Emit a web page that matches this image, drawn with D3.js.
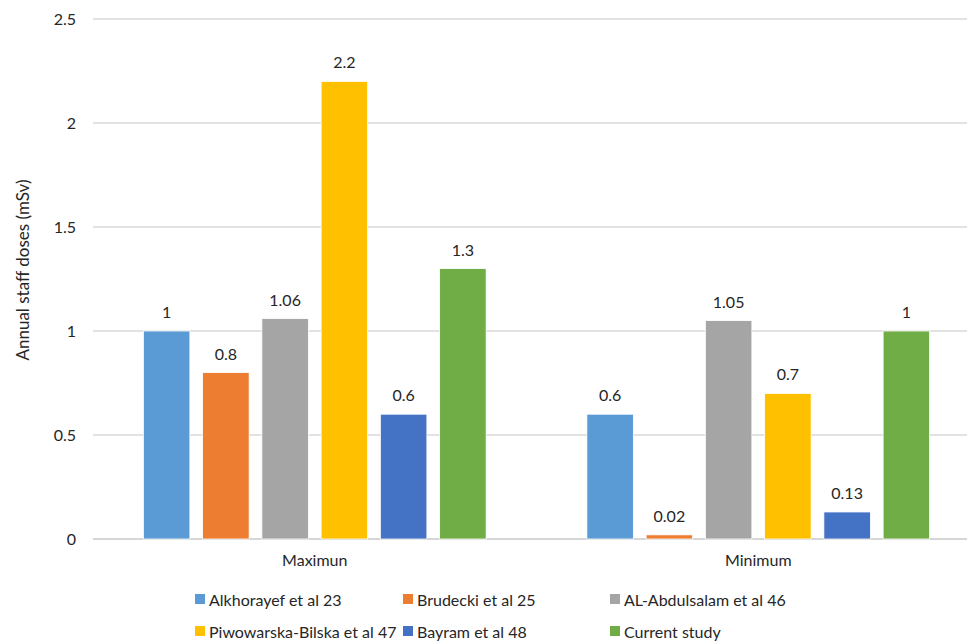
<!DOCTYPE html>
<html>
<head>
<meta charset="utf-8">
<script src="https://cdn.jsdelivr.net/npm/d3@7"></script>
<style>
  html, body { margin: 0; padding: 0; background: #fff; }
  svg { display: block; font-family: Lato, "Open Sans", sans-serif; }
</style>
</head>
<body>
<svg id="chart" width="967" height="641"></svg>
<script>
// Groups along the x axis
const categories = ["Maximun", "Minimum"];

// Studies (one bar per study in each group)
const series = [
  "Alkhorayef et al 23",
  "Brudecki et al 25",
  "AL-Abdulsalam et al 46",
  "Piwowarska-Bilska et al 47",
  "Bayram et al 48",
  "Current study"
];

// Annual staff doses (mSv): [Maximun, Minimum]
const alkhorayef = [1, 0.6];
const brudecki = [0.8, 0.02];
const alAbdulsalam = [1.06, 1.05];
const piwowarska = [2.2, 0.7];
const bayram = [0.6, 0.13];
const currentStudy = [1.3, 1];

const seriesValues = [alkhorayef, brudecki, alAbdulsalam, piwowarska, bayram, currentStudy];
const colors = ["#5B9BD5", "#ED7D31", "#A5A5A5", "#FFC000", "#4472C4", "#70AD47"];

const yTicks = [0, 0.5, 1, 1.5, 2, 2.5];

const svg = d3.select("#chart");
const plot = { left: 93, right: 980, top: 19, bottom: 539 };
const fontSize = 16;

const x0 = d3.scaleBand().domain(categories).range([plot.left, plot.right]).paddingInner(0).paddingOuter(0);
const x1 = d3.scaleBand().domain(series).range([44, x0.bandwidth() - 44]).paddingInner(0.215).paddingOuter(0.1075);
const y = d3.scaleLinear().domain([0, 2.5]).range([plot.bottom, plot.top]);

const textColor = "#262626";

// Gridlines
svg.append("g")
  .selectAll("line")
  .data(yTicks)
  .join("line")
  .attr("x1", plot.left)
  .attr("x2", plot.right)
  .attr("y1", d => y(d))
  .attr("y2", d => y(d))
  .attr("stroke", d => d === 0 ? "#C8C8C8" : "#D9D9D9")
  .attr("stroke-width", 1.3);

// Y axis tick labels
const yAxis = d3.axisLeft(y).tickValues(yTicks).tickSize(0).tickPadding(17).tickFormat(d3.format("~g"));
const gy = svg.append("g").attr("transform", `translate(${plot.left},0)`).call(yAxis);
gy.select(".domain").remove();
gy.selectAll("text").attr("font-size", fontSize).attr("fill", textColor).attr("font-family", "Lato, sans-serif");

// X axis category labels
const xAxis = d3.axisBottom(x0).tickSize(0).tickPadding(16);
const gx = svg.append("g").attr("transform", `translate(0,${plot.bottom})`).call(xAxis);
gx.select(".domain").remove();
gx.selectAll("text").attr("font-size", fontSize).attr("fill", textColor).attr("font-family", "Lato, sans-serif");

// Bars
const groups = svg.append("g")
  .selectAll("g")
  .data(categories)
  .join("g")
  .attr("transform", d => `translate(${x0(d)},0)`);

groups.each(function (cat, ci) {
  const g = d3.select(this);
  const data = series.map((s, si) => ({ s, si, v: seriesValues[si][ci] }));
  g.selectAll("rect")
    .data(data)
    .join("rect")
    .attr("x", d => x1(d.s))
    .attr("width", x1.bandwidth())
    .attr("y", d => y(d.v))
    .attr("height", d => y(0) - y(d.v))
    .attr("fill", d => colors[d.si])
    .attr("stroke", "#fff")
    .attr("stroke-width", 0.8);
  g.selectAll("text")
    .data(data)
    .join("text")
    .attr("x", d => x1(d.s) + x1.bandwidth() / 2)
    .attr("y", d => y(d.v) - 13)
    .attr("text-anchor", "middle")
    .attr("font-size", fontSize)
    .attr("fill", textColor)
    .text(d => d3.format("~g")(d.v));
});

// Y axis title
svg.append("text")
  .attr("transform", "translate(29,270) rotate(-90)")
  .attr("text-anchor", "middle")
  .attr("font-size", 17)
  .attr("fill", textColor)
  .text("Annual staff doses (mSv)");

// Legend: two rows of three
const legendX = [195, 403, 610];
const legendY = [600, 632];
const legend = svg.append("g")
  .selectAll("g")
  .data(series)
  .join("g")
  .attr("transform", (d, i) => `translate(${legendX[i % 3]},${legendY[Math.floor(i / 3)]})`);
legend.append("rect")
  .attr("x", 0).attr("y", -6)
  .attr("width", 10).attr("height", 10)
  .attr("fill", (d, i) => colors[i]);
legend.append("text")
  .attr("x", 14).attr("y", 0)
  .attr("dy", "0.35em")
  .attr("font-size", fontSize)
  .attr("fill", textColor)
  .text(d => d);
</script>
</body>
</html>
